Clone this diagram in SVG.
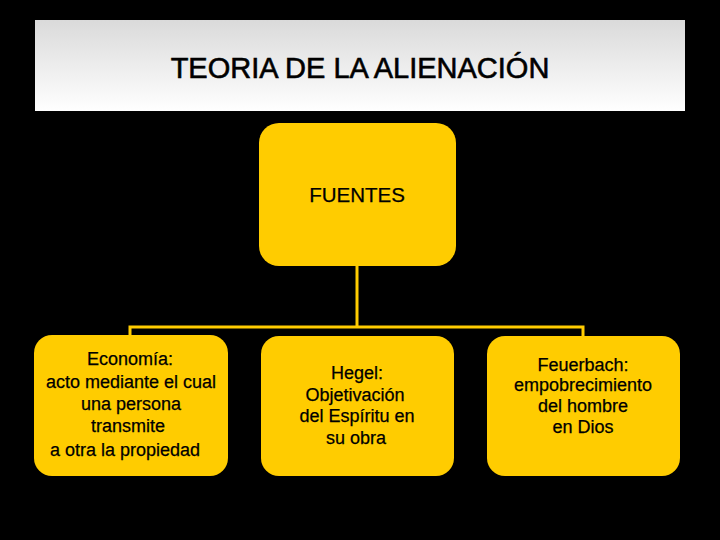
<svg xmlns="http://www.w3.org/2000/svg" width="720" height="540" viewBox="0 0 720 540">
<defs>
<linearGradient id="tg" x1="0" y1="0" x2="0" y2="1">
<stop offset="0" stop-color="#dadada"/>
<stop offset="1" stop-color="#ffffff"/>
</linearGradient>
<style>
.box{fill:#ffcc00;}
.t{font-family:"Liberation Sans",Arial,sans-serif;font-size:18px;fill:#000;stroke:#000;stroke-width:0.25;text-anchor:middle;}
.conn{stroke:#ffcc00;stroke-width:3;fill:none;}
</style>
</defs>
<rect x="0" y="0" width="720" height="540" fill="#000"/>
<g id="title">
<rect x="35" y="20" width="650" height="91" fill="url(#tg)"/>
<text x="360" y="78" style="font-family:'Liberation Sans',Arial,sans-serif;font-size:29px;fill:#000;stroke:#000;stroke-width:0.6;text-anchor:middle">TEORIA DE LA ALIENACIÓN</text>
</g>
<g id="connectors">
<path class="conn" d="M357,266 V327 M130,336 V327 H583 V336"/>
</g>
<g id="fuentes">
<rect class="box" x="259" y="123" width="197" height="143" rx="20"/>
<text class="t" x="357" y="202" style="font-size:20.5px">FUENTES</text>
</g>
<g id="economia">
<rect class="box" x="34" y="335" width="194" height="141" rx="18"/>
<text class="t" x="130" y="365">Economía:</text>
<text class="t" x="131" y="388">acto mediante el cual</text>
<text class="t" x="131" y="410">una persona</text>
<text class="t" x="128" y="432">transmite</text>
<text class="t" x="125" y="456">a otra la propiedad</text>
</g>
<g id="hegel">
<rect class="box" x="261" y="336" width="193" height="140" rx="18"/>
<text class="t" x="357" y="379">Hegel:</text>
<text class="t" x="355" y="401">Objetivación</text>
<text class="t" x="357" y="422">del Espíritu en</text>
<text class="t" x="356" y="444">su obra</text>
</g>
<g id="feuerbach">
<rect class="box" x="487" y="336" width="193" height="140" rx="18"/>
<text class="t" x="583" y="371">Feuerbach:</text>
<text class="t" x="583" y="391">empobrecimiento</text>
<text class="t" x="583" y="412">del hombre</text>
<text class="t" x="583" y="433">en Dios</text>
</g>
</svg>
